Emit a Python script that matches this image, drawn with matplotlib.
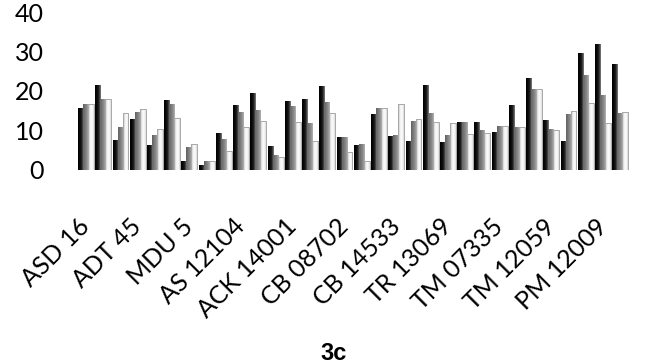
"""Grouped bar chart (panel 3c) with three shaded series per genotype."""

import matplotlib

matplotlib.use("Agg")
import matplotlib.pyplot as plt
import numpy as np
from matplotlib.colors import LinearSegmentedColormap

# Genotypes along the x axis (only every third one is labelled).
genotypes = [
    "ASD 16", "G2", "G3", "ADT 45", "G5", "G6", "MDU 5", "G8",
    "G9", "AS 12104", "G11", "G12", "ACK 14001", "G14", "G15", "CB 08702",
    "G17", "G18", "CB 14533", "G20", "G21", "TR 13069", "G23", "G24",
    "TM 07335", "G26", "G27", "TM 12059", "G29", "G30", "PM 12009", "G32",
]
label_step = 3

# Three series per genotype.
series_black = [
    15.6, 21.5, 7.6, 12.9, 6.3, 17.7, 2.3, 1.3,
    9.3, 16.5, 19.4, 6.2, 17.5, 17.9, 21.3, 8.3,
    6.3, 14.1, 8.6, 7.4, 21.6, 7.0, 12.2, 12.2,
    9.5, 16.5, 23.3, 12.7, 7.3, 29.5, 31.8, 26.8,
]
series_gray = [
    16.7, 18.0, 11.0, 14.8, 8.9, 16.7, 5.7, 2.3,
    7.8, 14.6, 15.2, 3.8, 16.2, 11.8, 17.3, 8.3,
    6.6, 15.6, 8.9, 12.4, 14.4, 8.9, 12.2, 10.1,
    11.1, 11.0, 20.5, 10.5, 14.3, 24.1, 18.9, 14.4,
]
series_white = [
    16.7, 18.0, 14.5, 15.4, 10.5, 13.2, 6.6, 2.3,
    4.9, 11.0, 12.5, 3.2, 12.2, 7.4, 14.5, 4.6,
    2.4, 15.8, 16.7, 12.9, 12.1, 12.0, 9.1, 9.3,
    11.1, 11.0, 20.4, 10.0, 15.0, 16.9, 11.8, 14.6,
]

FONT = ["Lato", "DejaVu Sans"]
plt.rcParams["font.family"] = FONT

# left-to-right shading of each bar, Excel style, plus outline colour
shades = [
    (series_black, ["#000000", "#0a0a0a", "#222222", "#8a8a8a"], "none", -0.29, 3),
    (series_gray, ["#5e5e5e", "#777777", "#8c8c8c", "#b5b5b5"], "none", 0.0, 2),
    (series_white, ["#b0b0b0", "#f0f0f0", "#ffffff", "#d8d8d8"], "#a8a8a8", 0.29, 1),
]
bar_width = 0.34

fig = plt.figure(figsize=(6.45, 3.64), dpi=100)
ax = fig.add_axes([0.120, 0.533, 0.855, 0.434])

x = np.arange(len(genotypes))
gradient = np.linspace(0, 1, 64).reshape(1, -1)
for values, colors, edge, offset, z in shades:
    cmap = LinearSegmentedColormap.from_list("shade", colors)
    bars = ax.bar(x + offset, values, bar_width, color="none",
                  edgecolor=edge, linewidth=0.7, zorder=z + 0.5)
    for bar in bars:
        x0, y0 = bar.get_x(), bar.get_y()
        im = ax.imshow(
            gradient,
            cmap=cmap,
            aspect="auto",
            interpolation="bicubic",
            extent=(x0, x0 + bar.get_width(), y0, y0 + bar.get_height()),
            zorder=z,
        )
        im.set_clip_path(bar)

ax.set_xlim(-0.5, len(genotypes) - 0.5)
ax.set_ylim(0, 40)
ax.set_yticks([0, 10, 20, 30, 40])
ax.tick_params(axis="y", length=0, pad=24, labelsize=18)
ax.set_xticks(x[::label_step])
ax.set_xticklabels(
    genotypes[::label_step],
    rotation=45,
    ha="right",
    va="center",
    rotation_mode="anchor",
    fontsize=18,
)
ax.tick_params(axis="x", length=0, pad=38)
for spine in ax.spines.values():
    spine.set_visible(False)

fig.text(0.517, 0.030, "3c", ha="center", va="center", fontsize=17,
         fontweight="bold", family=["Liberation Sans", "DejaVu Sans"])

fig.savefig("out.png", dpi=100)
